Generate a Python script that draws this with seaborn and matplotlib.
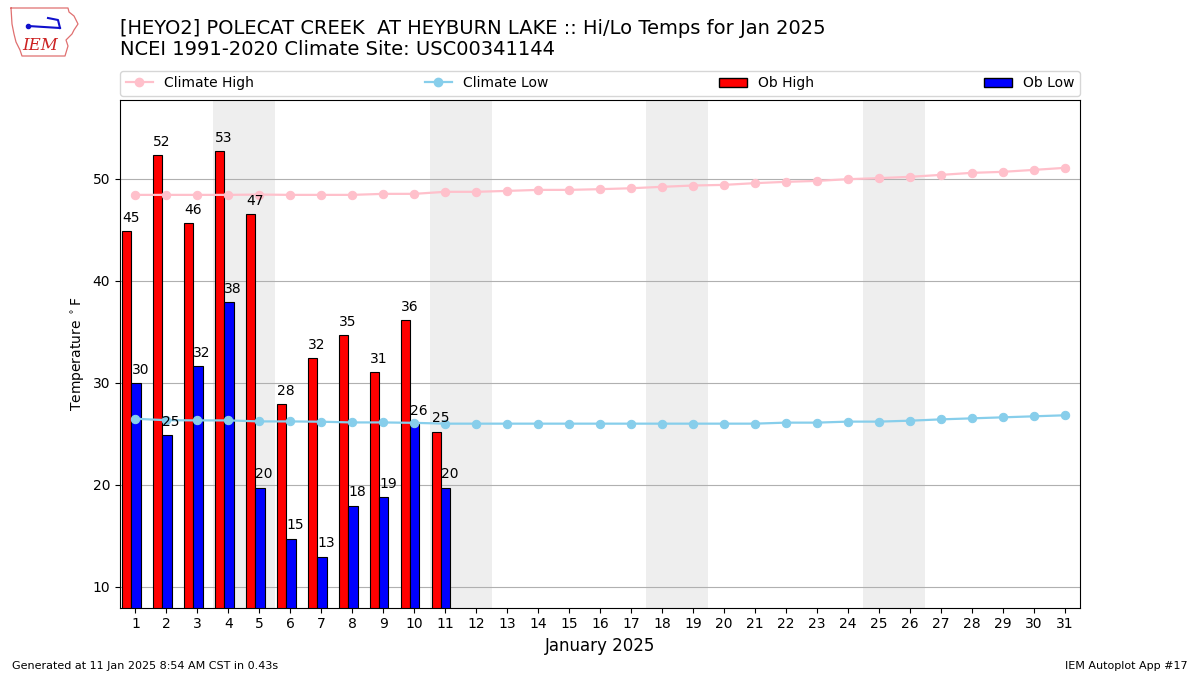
import numpy as np
import pandas as pd
import matplotlib
matplotlib.use("Agg")
import matplotlib.pyplot as plt
import seaborn as sns
from matplotlib.patches import Patch
from matplotlib.lines import Line2D

# ---- data ----
days = list(range(1, 32))
clim_high = [48.43, 48.43, 48.43, 48.43, 48.46, 48.43, 48.43, 48.43, 48.53, 48.53,
             48.73, 48.73, 48.82, 48.92, 48.92, 48.99, 49.08, 49.22, 49.35, 49.41,
             49.58, 49.71, 49.80, 49.97, 50.07, 50.20, 50.39, 50.59, 50.69, 50.88, 51.08]
clim_low = [26.46, 26.32, 26.30, 26.30, 26.20, 26.20, 26.17, 26.10, 26.10, 26.06,
            25.98, 25.98, 25.98, 25.98, 25.98, 25.98, 25.98, 25.98, 25.98, 25.98,
            25.98, 26.08, 26.08, 26.18, 26.18, 26.27, 26.40, 26.50, 26.60, 26.70, 26.80]
ob_days = list(range(1, 12))
ob_high = [44.90, 52.35, 45.69, 52.75, 46.57, 27.88, 32.39, 34.71, 31.08, 36.18, 25.20]
ob_low = [29.97, 24.90, 31.67, 37.88, 19.71, 14.71, 12.94, 17.94, 18.82, 25.90, 19.71]
weekend_starts = [4, 11, 18, 25]

title_lines = ["[HEYO2] POLECAT CREEK  AT HEYBURN LAKE :: Hi/Lo Temps for Jan 2025",
               "NCEI 1991-2020 Climate Site: USC00341144"]

fig = plt.figure(figsize=(12, 6.75), dpi=100)
ax = fig.add_axes([0.1, 0.1, 0.8, 0.752])

for d in weekend_starts:
    ax.axvspan(d - 0.5, d + 1.5, color="#eeeeee", zorder=0, lw=0)

hi_x = np.array(ob_days) - 0.28
lo_x = np.array(ob_days) + 0.02
sns.barplot(x=hi_x, y=ob_high, native_scale=True, color="red", saturation=1,
            edgecolor="black", linewidth=0.8, width=0.3, ax=ax, zorder=2, errorbar=None)
sns.barplot(x=lo_x, y=ob_low, native_scale=True, color="blue", saturation=1,
            edgecolor="black", linewidth=0.8, width=0.3, ax=ax, zorder=2, errorbar=None)

for x, v in zip(hi_x, ob_high):
    ax.text(x - 0.15, v + 0.6, f"{round(v):.0f}", ha="left", va="bottom", fontsize=10, zorder=4)
for x, v in zip(lo_x, ob_low):
    ax.text(x - 0.15, v + 0.6, f"{round(v):.0f}", ha="left", va="bottom", fontsize=10, zorder=4)

sns.lineplot(x=days, y=clim_high, color="pink", marker="o", markeredgecolor="pink",
             markersize=6, lw=1.6, ax=ax, zorder=3)
sns.lineplot(x=days, y=clim_low, color="skyblue", marker="o", markeredgecolor="skyblue",
             markersize=6, lw=1.6, ax=ax, zorder=3)

ax.set_xlim(0.5, 31.5)
ax.set_ylim(min(ob_low) - 5, max(ob_high) + 5)
ax.set_xticks(days)
ax.set_xticklabels([str(d) for d in days])
ax.set_yticks([10, 20, 30, 40, 50])
ax.yaxis.grid(True, color="#b0b0b0", lw=0.8)
ax.xaxis.grid(False)
ax.set_axisbelow(True)
ax.set_xlabel("January 2025", fontsize=12)
ax.set_ylabel(r"Temperature $^\circ$F")

handles = [Line2D([], [], color="pink", marker="o", markersize=6, lw=1.6),
           Line2D([], [], color="skyblue", marker="o", markersize=6, lw=1.6),
           Patch(facecolor="red", edgecolor="black"),
           Patch(facecolor="blue", edgecolor="black")]
ax.legend(handles, ["Climate High", "Climate Low", "Ob High", "Ob Low"], ncol=4,
          loc="lower left", bbox_to_anchor=(0, 1.008, 1, 0.05), mode="expand",
          borderaxespad=0, fontsize=10)

fig.text(0.1, 0.958, title_lines[0], fontsize=14, ha="left", va="center")
fig.text(0.1, 0.926, title_lines[1], fontsize=14, ha="left", va="center")
fig.text(0.01, 0.006, "Generated at 11 Jan 2025 8:54 AM CST in 0.43s", fontsize=8, ha="left", va="bottom")
fig.text(0.99, 0.006, "IEM Autoplot App #17", fontsize=8, ha="right", va="bottom")

# logo (decoration)
lax = fig.add_axes([8 / 1200, 1 - 58 / 675, 72 / 1200, 52 / 675])
lax.set_xlim(0, 72)
lax.set_ylim(52, 0)
lax.axis("off")
outline_x = [3, 60, 61, 66, 70, 66, 64, 58, 60, 57, 14, 12, 8, 6, 4, 3]
outline_y = [2, 2, 6, 10, 18, 24, 28, 34, 40, 50, 50, 44, 36, 28, 18, 2]
lax.plot(outline_x, outline_y, color="#e07070", lw=0.9)
lax.plot([20, 52], [20, 22], color="#1010cc", lw=1.5)
lax.plot([20], [20], marker="o", color="#1010cc", markersize=3)
lax.plot([40, 50, 52], [12, 14, 22], color="#1010cc", lw=1.5)
lax.text(14, 40, "IEM", fontsize=12, color="#cc2222", family="DejaVu Serif",
         style="italic", ha="left", va="center")

fig.savefig("out.png", dpi=100)
